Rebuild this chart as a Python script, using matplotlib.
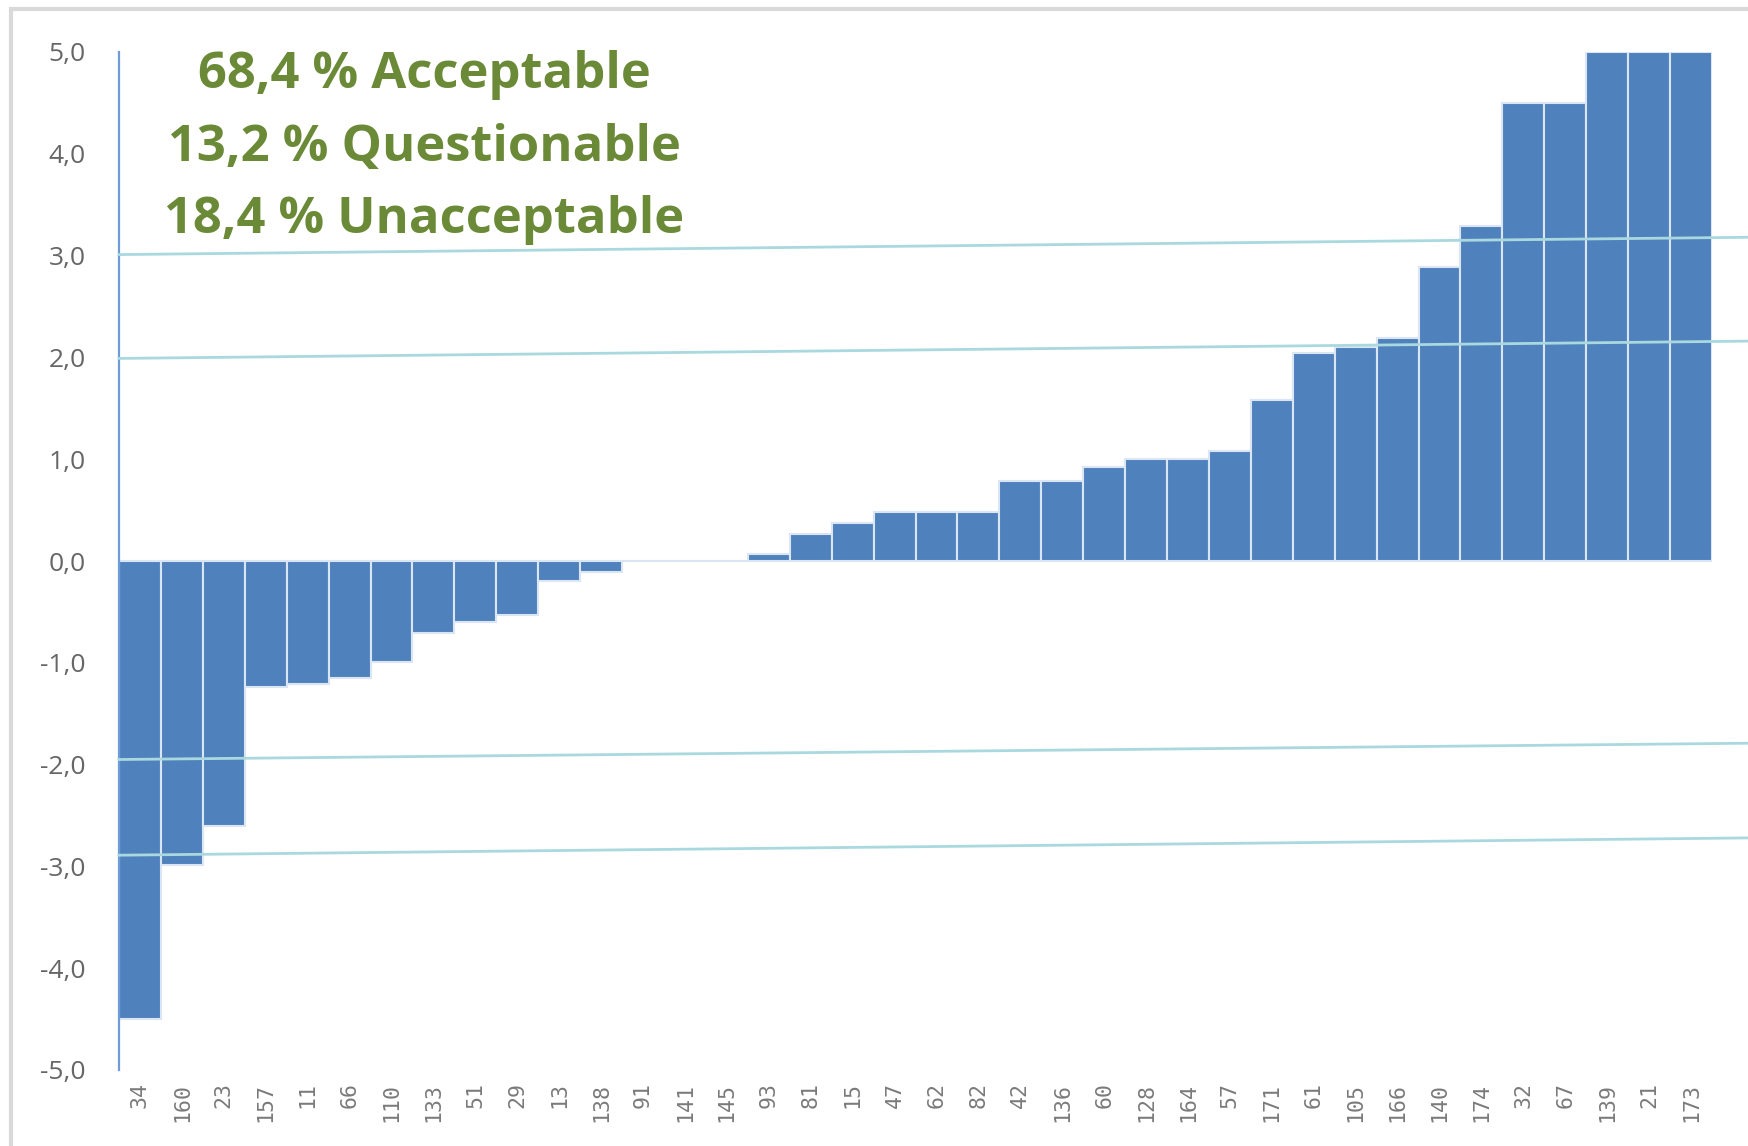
import matplotlib
matplotlib.use("Agg")
import matplotlib.pyplot as plt
from matplotlib.patches import Rectangle
import numpy as np

labels = ["34", "160", "23", "157", "11", "66", "110", "133", "51", "29", "13", "138",
          "91", "141", "145", "93", "81", "15", "47", "62", "82", "42", "136", "60",
          "128", "164", "57", "171", "61", "105", "166", "140", "174", "32", "67",
          "139", "21", "173"]
zscores = [-4.5, -2.99, -2.6, -1.24, -1.21, -1.15, -0.99, -0.71, -0.6, -0.53, -0.2, -0.11,
           0.0, 0.0, 0.0, 0.07, 0.27, 0.37, 0.48, 0.48, 0.48, 0.79, 0.79, 0.92,
           1.0, 1.0, 1.08, 1.58, 2.04, 2.1, 2.19, 2.89, 3.29, 4.5, 4.5,
           5.0, 5.0, 5.0]

# slanted limit lines: value at left end, value at right end
limit_left = [3.01, 1.99, -1.95, -2.89]
limit_right = [3.18, 2.16, -1.79, -2.72]

summary = ["68,4 % Acceptable", "13,2 % Questionable", "18,4 % Unacceptable"]

W, H = 1748, 1146
fig = plt.figure(figsize=(W / 100, H / 100), dpi=100)
fig.patch.set_facecolor("white")

# outer chart border
fig.patches.append(Rectangle((11 / W, -0.05), 2, 1.05 - 9 / H, transform=fig.transFigure,
                             facecolor="none", edgecolor="#d9d9d9", linewidth=3))

left, right, top, bottom = 119, 1712, 52, 1070
ax = fig.add_axes([left / W, 1 - bottom / H, (right - left) / W, (bottom - top) / H])

x = np.arange(len(labels))
ax.bar(x, zscores, width=1.0, color="#4f81bd", edgecolor="#dbe6f4", linewidth=1.5, zorder=2)
ax.set_xlim(-0.5, len(labels) - 0.5)
ax.set_ylim(-5, 5)

ax.axhline(0, color="#d9d9d9", linewidth=1.2, zorder=1)

# limit lines extend to figure edge
px_per_bar = (right - left) / len(labels)
x_end = -0.5 + (W - left) / px_per_bar
for yl, yr in zip(limit_left, limit_right):
    ax.plot([-0.5, x_end], [yl, yr], color="#a9d9df", linewidth=2, clip_on=False, zorder=3)

for s in ["top", "right", "bottom"]:
    ax.spines[s].set_visible(False)
ax.spines["left"].set_color("#6f9bd6")
ax.spines["left"].set_linewidth(1.6)

yt = np.arange(-5, 6, 1)
ax.set_yticks(yt)
ax.set_yticklabels([f"{v:.1f}".replace(".", ",") for v in yt], fontsize=19,
                   color="#666666", family="Open Sans")
ax.tick_params(axis="y", length=0, pad=24)
ax.set_xticks(x)
ax.set_xticklabels(labels, rotation=90, fontsize=15.5, color="#7a7a7a",
                   family="DejaVu Sans Mono")
ax.tick_params(axis="x", length=0, pad=9)

text_y = [75.5, 148, 220]
for t, yy in zip(summary, text_y):
    fig.text(424 / W, 1 - yy / H, t, ha="center", va="center", fontsize=36.5,
             fontweight="bold", color="#6b8a38", family="Open Sans")

fig.savefig("out.png", dpi=100)
